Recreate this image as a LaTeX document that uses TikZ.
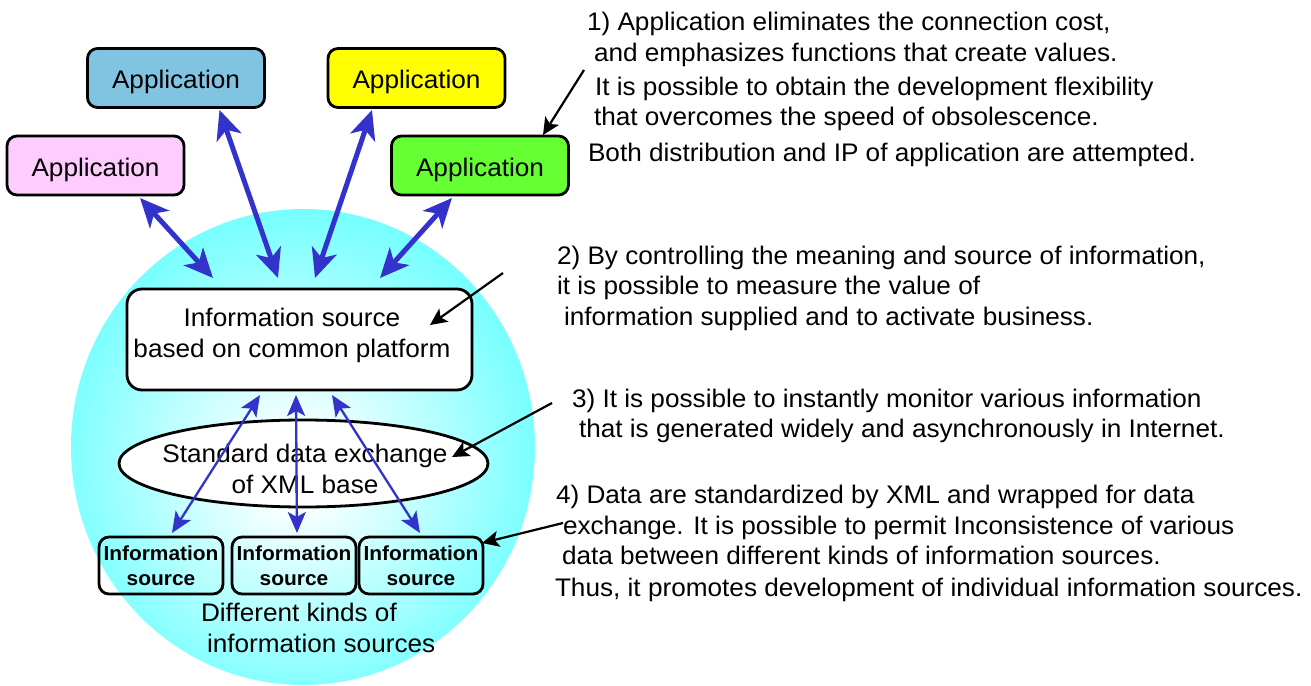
\documentclass[tikz,border=0pt]{standalone}
\usepackage{fontspec}
\setmainfont{Liberation Sans}[FakeStretch=1.03]
\usetikzlibrary{arrows.meta,shapes.geometric}

\definecolor{glowcyan}{RGB}{102,255,255}
\definecolor{appblue}{RGB}{128,196,226}
\definecolor{appyellow}{RGB}{255,255,0}
\definecolor{apppink}{RGB}{255,204,255}
\definecolor{appgreen}{RGB}{102,255,51}
\definecolor{link}{RGB}{51,51,204}

\pgfdeclareradialshading{sphereglow}{\pgfpoint{-1bp}{-3bp}}{%
  color(0bp)=(white); color(3bp)=(white); color(29bp)=(glowcyan); color(50bp)=(glowcyan)}

\newcommand\setfs[2]{\fontsize{#1bp}{#2bp}\selectfont}

\begin{document}
\begin{tikzpicture}[x=1bp,y=-1bp,
  every node/.style={inner sep=0pt, outer sep=0pt},
  txt/.style={font=\setfs{25.4}{31}, anchor=base west},
  app/.style={draw=black, line width=2.8bp, rounded corners=10bp,
    minimum width=177bp, minimum height=59bp, font=\setfs{25.4}{31},
    text height=22bp, text depth=1bp},
  src/.style={draw=black, line width=2.8bp, rounded corners=10bp,
    minimum width=124bp, minimum height=57bp, align=center,
    font=\setfs{20.3}{25}\bfseries},
  bigarrow/.style={draw=link, line width=5bp,
    {Stealth[length=29bp,width=26bp,inset=8bp]}-{Stealth[length=29bp,width=26bp,inset=8bp]}},
  thinarrow/.style={draw=link, line width=2.3bp,
    {Stealth[length=21bp,width=18bp,inset=5bp]}-{Stealth[length=21bp,width=18bp,inset=5bp]}},
  callout/.style={draw=black, line width=2.2bp,
    -{Stealth[length=17bp,width=16bp,inset=4bp]}},
]
\useasboundingbox (0,0) rectangle (1311,685);

% glowing sphere behind the platform
\shade[shading=sphereglow] (303,447) ellipse [x radius=232bp, y radius=238bp];

% applications
\node[app, fill=appblue]   (appA) at (176,78)  {Application};
\node[app, fill=appyellow] (appB) at (416.5,78)  {Application};
\node[app, fill=apppink]   (appC) at (95.5,165.5)  {Application};
\node[app, fill=appgreen]  (appD) at (480,165.5)   {Application};

% common platform
\node[draw=black, line width=2.8bp, rounded corners=15bp, fill=white,
  minimum width=345bp, minimum height=101bp] (platform) at (299.5,339.5) {};
\node[font=\setfs{25.4}{31}, align=center] (platformtext) at (292,335)
  {Information source\\based on common platform};

% XML exchange layer
\node[ellipse, draw=black, line width=2.8bp, fill=white,
  minimum width=369bp, minimum height=87bp] (xml) at (303.5,463.5) {};
\node[font=\setfs{25.4}{31}, align=center] (xmltext) at (305,468.5)
  {Standard data exchange\\of XML base};

% individual information sources
\node[src] (srcA) at (161,565.5) {Information\\source};
\node[src] (srcB) at (294,565.5) {Information\\source};
\node[src] (srcC) at (421,565.5) {Information\\source};

\node[txt] (kinds1) at (201,621) {Different kinds of};
\node[txt] (kinds2) at (207,652) {information sources};

% explanations
\node[txt] (n1a) at (587,31)  {1) Application eliminates the connection cost,};
\node[txt] (n1b) at (594,62)  {and emphasizes functions that create values.};
\node[txt] (n1c) at (595,96)  {It is possible to obtain the development flexibility};
\node[txt] (n1d) at (594,126) {that overcomes the speed of obsolescence.};
\node[txt] (n1e) at (588,161) {Both distribution and IP of application are attempted.};

\node[txt] (n2a) at (557,264) {2) By controlling the meaning and source of information,};
\node[txt] (n2b) at (557,294) {it is possible to measure the value of};
\node[txt] (n2c) at (564,325) {information supplied and to activate business.};

\node[txt] (n3a) at (572,407) {3) It is possible to instantly monitor various information};
\node[txt] (n3b) at (579,437) {that is generated widely and asynchronously in Internet.};

\node[txt] (n4a) at (556,503) {4) Data are standardized by XML and wrapped for data};
\node[txt] (n4b) at (563,534) {exchange. It is possible to permit Inconsistence of various};
\node[txt] (n4c) at (562,564) {data between different kinds of information sources.};
\node[txt] (n4d) at (555,596) {Thus, it promotes development of individual information sources.};

% connector end points
\coordinate (cA1) at (219.5,110); \coordinate (cA2) at (278,278);
\coordinate (cB1) at (372,110);   \coordinate (cB2) at (315,278);
\coordinate (cC1) at (140,198);   \coordinate (cC2) at (213,278);
\coordinate (cD1) at (452,198);   \coordinate (cD2) at (380,278);

\coordinate (sA1) at (260,395); \coordinate (sA2) at (172,533);
\coordinate (sB1) at (296,395); \coordinate (sB2) at (297,533);
\coordinate (sC1) at (332,395); \coordinate (sC2) at (420,533);

\coordinate (k1) at (584,70);  \coordinate (k1t) at (543,135);
\coordinate (k2) at (503,273); \coordinate (k2t) at (430,325);
\coordinate (k3) at (552,403); \coordinate (k3t) at (452,457);
\coordinate (k4) at (563,523); \coordinate (k4t) at (482,543);

% application links
\draw[bigarrow] (cA1) -- (cA2);
\draw[bigarrow] (cB1) -- (cB2);
\draw[bigarrow] (cC1) -- (cC2);
\draw[bigarrow] (cD1) -- (cD2);

% source links
\draw[thinarrow] (sA1) -- (sA2);
\draw[thinarrow] (sB1) -- (sB2);
\draw[thinarrow] (sC1) -- (sC2);

% callouts
\draw[callout] (k1) -- (k1t);
\draw[callout] (k2) -- (k2t);
\draw[callout] (k3) -- (k3t);
\draw[callout] (k4) -- (k4t);
\end{tikzpicture}
\end{document}
